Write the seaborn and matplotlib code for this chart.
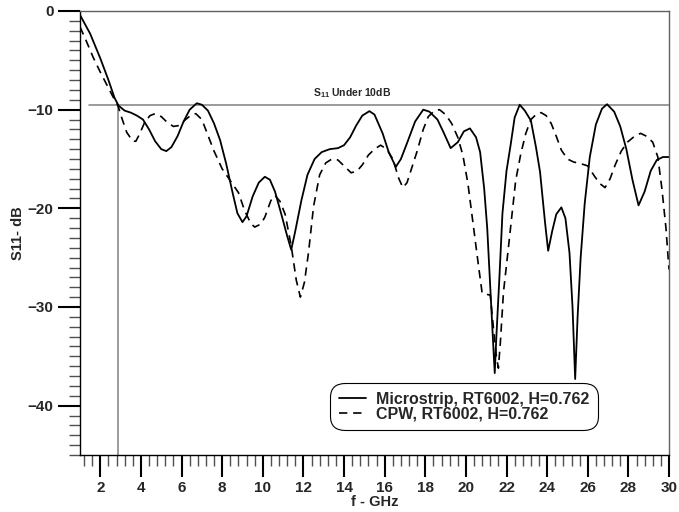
import matplotlib
matplotlib.use("Agg")
import matplotlib.pyplot as plt
from matplotlib.ticker import MultipleLocator
import seaborn as sns
import pandas as pd

# ---- data ----
ms_freq = [1.0, 1.5, 2.0, 2.4, 2.7, 2.9, 3.2, 3.5, 3.8, 4.1, 4.4, 4.7, 5.0, 5.25, 5.5, 5.8,
           6.1, 6.4, 6.75, 7.0, 7.3, 7.6, 7.9, 8.2, 8.5, 8.75, 9.0, 9.2, 9.5, 9.8, 10.1,
           10.35, 10.6, 10.9, 11.2, 11.4, 11.6, 11.9, 12.2, 12.55, 12.9, 13.3, 13.7, 14.0,
           14.3, 14.6, 14.9, 15.25, 15.5, 15.9, 16.2, 16.55, 16.8, 17.1, 17.5, 17.9, 18.2,
           18.6, 18.9, 19.25, 19.6, 19.9, 20.2, 20.5, 20.7, 20.9, 21.05, 21.2, 21.35, 21.42,
           21.5, 21.65, 21.8, 22.0, 22.2, 22.4, 22.65, 22.9, 23.2, 23.45, 23.65, 23.9, 24.05,
           24.25, 24.45, 24.7, 24.9, 25.1, 25.25, 25.38, 25.5, 25.65, 25.85, 26.1, 26.4,
           26.7, 26.95, 27.3, 27.6, 27.9, 28.2, 28.5, 28.8, 29.1, 29.4, 29.7, 30.0]
ms_s11 = [-0.4, -2.3, -4.8, -7.0, -8.8, -9.6, -10.1, -10.3, -10.6, -11.0, -12.0, -13.2, -14.0,
          -14.2, -13.8, -12.7, -11.2, -10.0, -9.35, -9.5, -10.1, -11.4, -13.1, -15.5, -18.3,
          -20.5, -21.4, -20.8, -18.8, -17.4, -16.8, -17.1, -18.3, -20.5, -22.8, -24.2, -22.3,
          -19.2, -16.6, -15.0, -14.3, -14.0, -13.9, -13.6, -12.8, -11.6, -10.6, -10.15, -10.5,
          -12.4, -14.3, -15.8, -15.0, -13.4, -11.2, -10.0, -10.2, -11.0, -12.3, -13.9, -13.3,
          -12.2, -11.9, -12.8, -14.3, -18.0, -22.0, -28.0, -34.0, -36.7, -33.0, -27.0, -20.5,
          -16.2, -13.6, -10.8, -9.5, -10.1, -11.1, -13.8, -16.3, -21.5, -24.3, -22.3, -20.6,
          -19.9, -21.0, -24.5, -30.0, -37.3, -31.0, -25.0, -19.5, -14.8, -11.5, -9.9, -9.45,
          -10.2, -11.7, -14.0, -17.1, -19.7, -18.3, -16.2, -15.1, -14.8, -14.8]

cpw_freq = [1.0, 1.3, 1.65, 2.0, 2.3, 2.6, 2.87, 3.05, 3.3, 3.6, 3.75, 3.95, 4.2, 4.45, 4.7,
            5.0, 5.3, 5.6, 5.9, 6.2, 6.5, 6.7, 7.0, 7.3, 7.6, 8.0, 8.4, 8.8, 9.1, 9.4, 9.6,
            9.9, 10.1, 10.4, 10.6, 10.85, 11.1, 11.4, 11.65, 11.85, 12.05, 12.25, 12.5, 12.8,
            13.1, 13.4, 13.7, 14.0, 14.35, 14.65, 14.9, 15.2, 15.5, 15.8, 16.1, 16.4, 16.7,
            16.9, 17.1, 17.35, 17.6, 17.9, 18.15, 18.45, 18.7, 19.0, 19.3, 19.6, 19.85, 20.1,
            20.35, 20.6, 20.8, 21.2, 21.35, 21.5, 21.6, 21.7, 21.85, 22.05, 22.25, 22.45, 22.7,
            22.95, 23.2, 23.5, 23.7, 23.95, 24.2, 24.45, 24.7, 25.0, 25.3, 25.7, 26.0, 26.35,
            26.6, 26.85, 27.1, 27.35, 27.65, 27.95, 28.3, 28.6, 28.9, 29.2, 29.45, 29.65,
            29.85, 30.0]
cpw_s11 = [-1.6, -3.0, -4.7, -6.2, -7.4, -8.6, -9.6, -10.8, -12.3, -13.2, -13.2, -12.4, -11.2,
           -10.6, -10.4, -10.7, -11.3, -11.7, -11.6, -11.0, -10.5, -10.4, -11.0, -12.6, -14.2,
           -16.0, -17.2, -18.4, -20.2, -21.5, -21.9, -21.6, -20.9, -19.2, -18.7, -19.3, -20.6,
           -23.8, -27.3, -29.0, -27.5, -24.5, -19.8, -16.6, -15.4, -15.0, -15.1, -15.7, -16.4,
           -16.2, -15.6, -14.6, -14.0, -13.6, -14.0, -15.0, -17.0, -17.9, -17.4, -15.8, -14.2,
           -12.0, -10.7, -10.1, -10.0, -10.5, -11.4, -12.8, -14.6, -17.5, -21.5, -25.5, -28.6,
           -28.8, -32.0, -35.0, -36.2, -33.5, -28.5, -24.8, -21.0, -17.2, -14.5, -12.4, -11.0,
           -10.4, -10.3, -10.6, -11.4, -12.7, -14.1, -15.0, -15.3, -15.5, -15.7, -16.8, -17.5,
           -17.9, -17.0, -15.6, -14.2, -13.3, -12.7, -12.4, -12.7, -13.3, -14.8, -18.0, -22.0,
           -26.2]

series_names = ["Microstrip, RT6002, H=0.762", "CPW, RT6002, H=0.762"]
threshold_db = -9.5
threshold_freq = 2.87
annotation = r"S$_{\mathbf{11}}$ Under 10dB"
x_label = "f - GHz"
y_label = "S11- dB"

# ---- style ----
sns.set_style("ticks")
plt.rcParams["font.family"] = ["Liberation Sans", "DejaVu Sans"]
plt.rcParams["mathtext.fontset"] = "custom"
plt.rcParams["mathtext.rm"] = "Liberation Sans:bold"
plt.rcParams["mathtext.bf"] = "Liberation Sans:bold"

df_ms = pd.DataFrame({"f": ms_freq, "s11": ms_s11})
df_cpw = pd.DataFrame({"f": cpw_freq, "s11": cpw_s11})

fig = plt.figure(figsize=(6.79, 5.12), dpi=100)
ax = fig.add_axes([80 / 679, 1 - 455 / 512, 589 / 679, 444 / 512])

sns.lineplot(data=df_ms, x="f", y="s11", ax=ax, color="black", linewidth=1.3,
             label=series_names[0], sort=False, estimator=None)
sns.lineplot(data=df_cpw, x="f", y="s11", ax=ax, color="black", linewidth=1.2,
             label=series_names[1], sort=False, estimator=None, linestyle=(0, (5, 3.5)))

ax.set_xlim(1, 30)
ax.set_ylim(-45, 0)

# reference lines
ax.plot([1.44, 30], [threshold_db, threshold_db], color="#808080", linewidth=1.1, zorder=1)
ax.plot([threshold_freq, threshold_freq], [threshold_db, -45], color="#808080",
        linewidth=1.1, zorder=1)
ax.text(12.47, -8.3, annotation, fontsize=7.5, fontweight="bold", ha="left", va="center")

# ticks
ax.xaxis.set_major_locator(MultipleLocator(2))
ax.xaxis.set_minor_locator(MultipleLocator(0.4))
ax.yaxis.set_major_locator(MultipleLocator(10))
ax.yaxis.set_minor_locator(MultipleLocator(1))
ax.tick_params(which="major", direction="out", length=16, width=1.5, color="black",
               labelsize=11, pad=3)
ax.tick_params(which="minor", direction="out", length=8, width=1.0, color="#505050")
for lbl in ax.get_xticklabels() + ax.get_yticklabels():
    lbl.set_fontweight("bold")

for side in ["left", "bottom"]:
    ax.spines[side].set_color("black")
    ax.spines[side].set_linewidth(1.0)
for side in ["top", "right"]:
    ax.spines[side].set_visible(True)
    ax.spines[side].set_color("#606060")
    ax.spines[side].set_linewidth(1.0)

ax.set_xlabel(x_label, fontsize=10.5, fontweight="bold", labelpad=0)
ax.set_ylabel(y_label, fontsize=10.5, fontweight="bold", labelpad=2)

leg = ax.legend(loc="center", bbox_to_anchor=(0.652, 0.109), frameon=True,
                prop={"weight": "bold", "size": 11.5}, handlelength=1.7, handletextpad=0.6,
                labelspacing=0.0, borderpad=0.3, fancybox=True)
frame = leg.get_frame()
frame.set_edgecolor("black")
frame.set_linewidth(0.8)
frame.set_facecolor("white")
frame.set_alpha(1)
frame.set_boxstyle("round,pad=0.25,rounding_size=0.9")

fig.savefig("out.png", dpi=100)
